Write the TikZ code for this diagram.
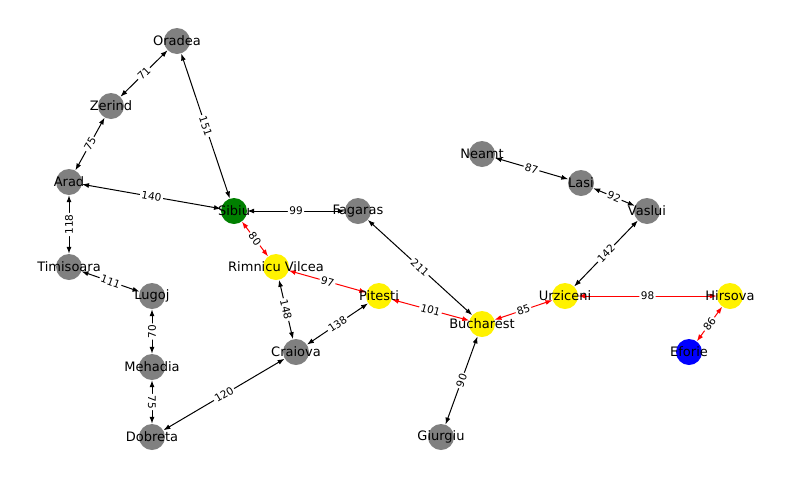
\documentclass[tikz,border=0pt]{standalone}
\usepackage{fontspec}
\setmainfont{DejaVu Sans}
\usetikzlibrary{arrows.meta}
\begin{document}
\begin{tikzpicture}[x=1pt,y=-1pt,
  city/.style={circle,minimum size=26pt,inner sep=0pt,draw=none},
  cityname/.style={font=\fontsize{13}{15}\selectfont,inner sep=0pt},
  road/.style={line width=1pt,black,{Latex[length=7pt,width=5pt]}-{Latex[length=7pt,width=5pt]}},
  route/.style={road,red},
  dist/.style={font=\fontsize{10.5}{12}\selectfont,fill=white,inner sep=1.5pt,rounded corners=2pt,midway,text=black}]
\useasboundingbox (0,0) rectangle (800,480);

% city markers
\node[city,fill=gray]   (oradea)    at (177,41)  {};
\node[city,fill=gray]   (zerind)    at (111,106) {};
\node[city,fill=gray]   (arad)      at (69,182)  {};
\node[city,fill=green!50!black] (sibiu) at (234,211) {};
\node[city,fill=gray]   (fagaras)   at (358,211) {};
\node[city,fill=gray]   (timisoara) at (69,267)  {};
\node[city,fill=gray]   (lugoj)     at (152,296) {};
\node[city,fill=yellow] (rimnicu)   at (276,267) {};
\node[city,fill=yellow] (pitesti)   at (379,296) {};
\node[city,fill=gray]   (craiova)   at (296,352) {};
\node[city,fill=gray]   (mehadia)   at (152,367) {};
\node[city,fill=gray]   (dobreta)   at (152,437) {};
\node[city,fill=yellow] (bucharest) at (482,324) {};
\node[city,fill=gray]   (giurgiu)   at (441,437) {};
\node[city,fill=gray]   (neamt)     at (482,154) {};
\node[city,fill=gray]   (lasi)      at (581,183) {};
\node[city,fill=gray]   (vaslui)    at (647,211) {};
\node[city,fill=yellow] (urziceni)  at (565,296) {};
\node[city,fill=yellow] (hirsova)   at (730,296) {};
\node[city,fill=blue]   (eforie)    at (689,352) {};

% roads
\draw[road] (oradea) -- node[dist,sloped] {71} (zerind);
\draw[road] (zerind) -- node[dist,sloped] {75} (arad);
\draw[road] (oradea) -- node[dist,sloped] {151} (sibiu);
\draw[road] (arad) -- node[dist,sloped] {140} (sibiu);
\draw[road] (timisoara) -- node[dist,rotate=90] {118} (arad);
\draw[road] (timisoara) -- node[dist,sloped] {111} (lugoj);
\draw[road] (mehadia) -- node[dist,rotate=90] {70} (lugoj);
\draw[road] (mehadia) -- node[dist,rotate=-90] {75} (dobreta);
\draw[road] (dobreta) -- node[dist,sloped] {120} (craiova);
\draw[road] (rimnicu) -- node[dist,sloped] {148} (craiova);
\draw[road] (craiova) -- node[dist,sloped] {138} (pitesti);
\draw[road] (sibiu) -- node[dist] {99} (fagaras);
\draw[road] (fagaras) -- node[dist,sloped] {211} (bucharest);
\draw[road] (giurgiu) -- node[dist,sloped] {90} (bucharest);
\draw[road] (urziceni) -- node[dist,sloped] {142} (vaslui);
\draw[road] (lasi) -- node[dist,sloped] {92} (vaslui);
\draw[road] (neamt) -- node[dist,sloped] {87} (lasi);

% highlighted route
\draw[route] (sibiu) -- node[dist,sloped] {80} (rimnicu);
\draw[route] (rimnicu) -- node[dist,sloped] {97} (pitesti);
\draw[route] (pitesti) -- node[dist,sloped] {101} (bucharest);
\draw[route] (bucharest) -- node[dist,sloped] {85} (urziceni);
\draw[route] (urziceni) -- node[dist] {98} (hirsova);
\draw[route] (eforie) -- node[dist,sloped] {86} (hirsova);

% city names
\foreach \c/\t in {oradea/Oradea,zerind/Zerind,arad/Arad,sibiu/Sibiu,
  fagaras/Fagaras,timisoara/Timisoara,lugoj/Lugoj,rimnicu/Rimnicu Vilcea,
  pitesti/Pitesti,craiova/Craiova,mehadia/Mehadia,dobreta/Dobreta,
  bucharest/Bucharest,giurgiu/Giurgiu,neamt/Neamt,lasi/Lasi,vaslui/Vaslui,
  urziceni/Urziceni,hirsova/Hirsova,eforie/Eforie}
  \node[cityname] (\c-name) at (\c) {\t};
\end{tikzpicture}
\end{document}
